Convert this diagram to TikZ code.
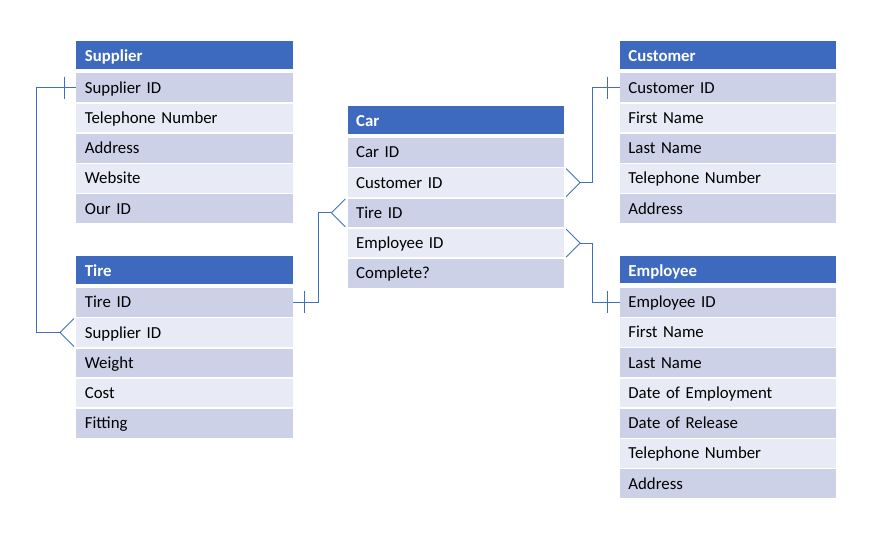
\documentclass[tikz,border=0pt]{standalone}
\usepackage{fontspec}
\setmainfont{Carlito}
\definecolor{hdrblue}{RGB}{61,105,190}
\definecolor{rowdark}{RGB}{204,209,232}
\definecolor{rowlight}{RGB}{232,234,245}
\definecolor{linkblue}{RGB}{64,110,196}
\tikzset{
  tblcell/.style={rectangle, inner xsep=8.7pt, inner ysep=0pt, text width=199.1pt, align=left,
    text height=11pt, text depth=0pt, font=\fontsize{16.8}{18}\selectfont},
  hdr/.style={tblcell, minimum height=27.7pt, fill=hdrblue, text=white, text height=13pt,
    font=\fontsize{16.8}{18}\selectfont\bfseries},
  rowcell/.style={tblcell, minimum height=28.7pt, text=black},
  link/.style={draw=linkblue, line width=0.9pt},
}
\newcommand\erdtable[5]{%
  \node[hdr, anchor=north west] (#1-h) at (#2,#3) {#4};
  \foreach \t [count=\i from 0] in {#5} {
    \pgfmathsetmacro\yy{#3+46.65+30.25*\i}
    \ifodd\i \def\rowcol{rowlight}\else\def\rowcol{rowdark}\fi
    \node[rowcell, fill=\rowcol, anchor=west] (#1-\i) at (#2,\yy) {\t};
  }%
}
\begin{document}
\begin{tikzpicture}[x=1pt,y=-1pt]
\useasboundingbox (0,0) rectangle (881,538);
\erdtable{sup}{76}{41}{Supplier}{Supplier ID,Telephone Number,Address,Website,Our ID}
\erdtable{tire}{76}{255.7}{Tire}{Tire ID,Supplier ID,Weight,Cost,Fitting}
\erdtable{car}{347.3}{105.7}{Car}{Car ID,Customer ID,Tire ID,Employee ID,Complete?}
\erdtable{cust}{619.5}{41}{Customer}{Customer ID,First Name,Last Name,Telephone Number,Address}
\erdtable{emp}{619.5}{255.5}{Employee}{Employee ID,First Name,Last Name,Date of Employment,Date of Release,Telephone Number,Address}
% Supplier -> Tire
\draw[link] (sup-0.west) -- ++(-40,0) |- ([xshift=-16pt]tire-1.west);
\draw[link] ([xshift=-12pt,yshift=11pt]sup-0.west) -- ([xshift=-12pt,yshift=-11pt]sup-0.west);
\draw[link] ([xshift=-2pt,yshift=14pt]tire-1.west) -- ([xshift=-16pt]tire-1.west) -- ([xshift=-2pt,yshift=-14pt]tire-1.west);
% Tire -> Car
\draw[link] (tire-0.east) -- ++(25.3,0) |- ([xshift=-16pt]car-2.west);
\draw[link] ([xshift=12pt,yshift=11pt]tire-0.east) -- ([xshift=12pt,yshift=-11pt]tire-0.east);
\draw[link] ([xshift=-2pt,yshift=14pt]car-2.west) -- ([xshift=-16pt]car-2.west) -- ([xshift=-2pt,yshift=-14pt]car-2.west);
% Customer -> Car
\draw[link] ([xshift=16pt]car-1.east) -- ++(12.5,0) |- (cust-0.west);
\draw[link] ([xshift=2pt,yshift=14pt]car-1.east) -- ([xshift=16pt]car-1.east) -- ([xshift=2pt,yshift=-14pt]car-1.east);
\draw[link] ([xshift=-12pt,yshift=11pt]cust-0.west) -- ([xshift=-12pt,yshift=-11pt]cust-0.west);
% Employee -> Car
\draw[link] ([xshift=16pt]car-3.east) -- ++(12.5,0) |- (emp-0.west);
\draw[link] ([xshift=2pt,yshift=14pt]car-3.east) -- ([xshift=16pt]car-3.east) -- ([xshift=2pt,yshift=-14pt]car-3.east);
\draw[link] ([xshift=-12pt,yshift=11pt]emp-0.west) -- ([xshift=-12pt,yshift=-11pt]emp-0.west);
\end{tikzpicture}
\end{document}
